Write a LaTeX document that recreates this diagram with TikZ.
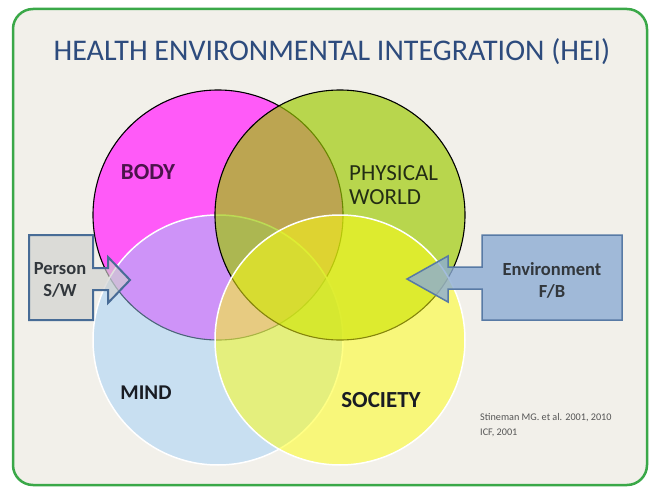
\documentclass[tikz,border=0pt]{standalone}
\usepackage{fontspec}
\setmainfont{Carlito}
\definecolor{framegreen}{RGB}{58,168,72}
\definecolor{bgcream}{RGB}{242,240,234}
\definecolor{bodyc}{RGB}{255,90,248}
\definecolor{mindc}{RGB}{157,207,250}
\definecolor{pwc}{RGB}{156,202,0}
\definecolor{socc}{RGB}{255,255,20}
\definecolor{titleblue}{RGB}{45,75,125}
\definecolor{boxline}{RGB}{72,108,150}
\definecolor{personfill}{RGB}{208,208,206}
\definecolor{envfill}{RGB}{140,172,212}
\definecolor{envline}{RGB}{88,122,165}
\definecolor{bodytext}{RGB}{75,20,75}
\definecolor{pwtext}{RGB}{35,45,20}
\definecolor{darktext}{RGB}{25,28,35}
\definecolor{boxtext}{RGB}{50,55,60}
\definecolor{citetext}{RGB}{85,85,85}
\tikzset{
  blackrim/.style={draw=black, line width=1.1pt},
  whiterim/.style={draw=white, line width=1.5pt},
  circlabel/.style={inner sep=0pt, align=left},
  boxlabel/.style={inner sep=0pt, align=center, text=boxtext, font=\fontsize{18.5}{22}\selectfont\bfseries},
}
\begin{document}
\begin{tikzpicture}[x=1pt,y=-1pt]
\useasboundingbox (0,0) rectangle (649,487);
\fill[white] (0,0) rectangle (649,487);
\draw[framegreen, line width=2.5pt, fill=bgcream, rounded corners=20pt] (13,9) rectangle (647,485);

% circles
\coordinate (cb) at (218,215);
\coordinate (cp) at (340,215);
\coordinate (cm) at (218,340);
\coordinate (cs) at (340,340);
\fill[bodyc] (cb) circle[radius=125pt];
\draw[blackrim] (cb) circle[radius=125pt];
\fill[mindc, opacity=0.49] (cm) circle[radius=125pt];
\draw[whiterim] (cm) circle[radius=125pt];
\fill[pwc, opacity=0.67] (cp) circle[radius=125pt];
\draw[blackrim] (cp) circle[radius=125pt];
\fill[socc, opacity=0.52] (cs) circle[radius=125pt];
\draw[whiterim] (cs) circle[radius=125pt];

% title
\node[text=titleblue, font=\fontsize{30}{34}\selectfont, inner sep=0pt] (title) at (332,52) {HEALTH ENVIRONMENTAL INTEGRATION (HEI)};

% circle labels
\node[circlabel, text=bodytext, font=\fontsize{23}{26}\selectfont\bfseries] (body) at (148,172) {BODY};
\node[circlabel, anchor=west, text=pwtext, font=\fontsize{23}{24}\selectfont] (pw) at (349,185) {PHYSICAL\\WORLD};
\node[circlabel, text=darktext, font=\fontsize{21}{24}\selectfont\bfseries] (mind) at (146,393) {MIND};
\node[circlabel, text=darktext, font=\fontsize{23}{26}\selectfont\bfseries] (society) at (381,400) {SOCIETY};

% person arrow box
\filldraw[fill=personfill, fill opacity=0.65, draw=boxline, line width=2pt, line join=miter]
  (29,235) -- (93,235) -- (93,268) -- (108,268) -- (108,257) -- (130,280) -- (108,303) -- (108,290) -- (93,290) -- (93,320) -- (29,320) -- cycle;
\node[boxlabel] (person) at (60,280) {Person\\S/W};

% environment arrow box
\filldraw[fill=envfill, fill opacity=0.8, draw=envline, line width=1.5pt, line join=miter]
  (622,235) -- (482,235) -- (482,267) -- (448,267) -- (448,256) -- (407,279) -- (448,302) -- (448,289) -- (482,289) -- (482,320) -- (622,320) -- cycle;
\node[boxlabel] (env) at (552,280) {Environment\\F/B};

% citation
\node[anchor=north west, inner sep=0pt, align=left, text=citetext, font=\fontsize{10.2}{15}\selectfont] (cite) at (480,413) {Stineman MG. et al. 2001, 2010\\ICF, 2001};
\end{tikzpicture}
\end{document}
